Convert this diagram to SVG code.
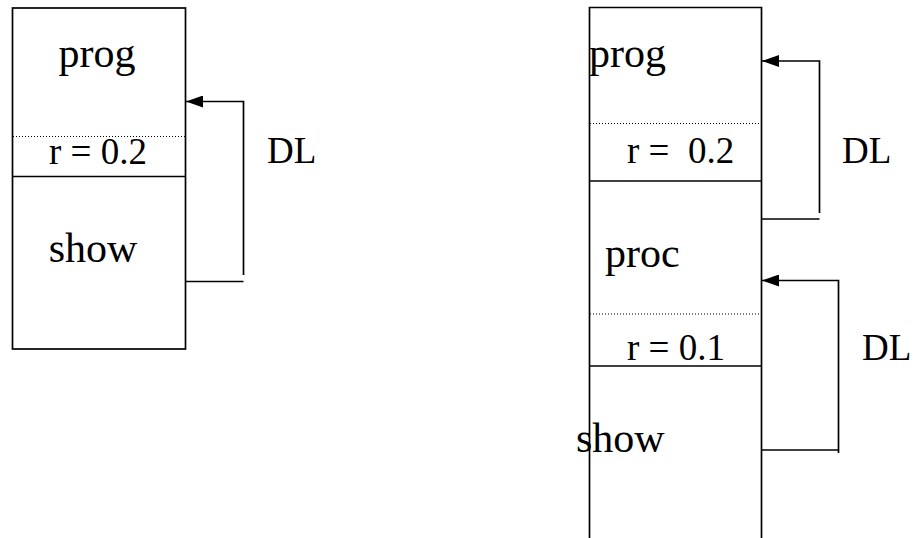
<svg xmlns="http://www.w3.org/2000/svg" width="914" height="538" viewBox="0 0 914 538">
  <style>
    .frame { fill: none; stroke: #000; stroke-width: 1.7; }
    .sep { stroke: #000; stroke-width: 1.7; }
    .dot { stroke: #000; stroke-width: 1; stroke-dasharray: 1 2; }
    .link { fill: none; stroke: #000; stroke-width: 1.7; }
    .big { font-family: "Liberation Serif", "Times New Roman", serif; font-size: 42px; fill: #000; }
    .mid { font-family: "Liberation Serif", "Times New Roman", serif; font-size: 37px; fill: #000; white-space: pre; }
  </style>
  <defs>
    <marker id="arrow" viewBox="0 0 17 12" refX="17" refY="6" markerWidth="17" markerHeight="12" markerUnits="userSpaceOnUse" orient="auto">
      <path d="M0,0 L17,6 L0,12 Z" fill="#000"/>
    </marker>
  </defs>

  <!-- Left stack: prog frame over show frame -->
  <g id="left-stack">
    <rect class="frame" x="12.5" y="8" width="173" height="341"/>
    <line class="dot" x1="13" y1="136.5" x2="185" y2="136.5"/>
    <line class="sep" x1="12.5" y1="176.5" x2="185.5" y2="176.5"/>
    <text class="big" x="97" y="67" text-anchor="middle">prog</text>
    <text class="mid" x="98" y="164" text-anchor="middle">r = 0.2</text>
    <text class="big" x="93" y="262" text-anchor="middle">show</text>
  </g>

  <!-- Right stack: prog, proc and show frames -->
  <g id="right-stack">
    <path class="frame" d="M589.5,538 V7.5 H761.5 V538"/>
    <line class="dot" x1="590" y1="123.5" x2="761" y2="123.5"/>
    <line class="sep" x1="589.5" y1="181" x2="761.5" y2="181"/>
    <line class="dot" x1="590" y1="314" x2="761" y2="314"/>
    <line class="sep" x1="589.5" y1="366" x2="761.5" y2="366"/>
    <text class="big" x="589" y="67">prog</text>
    <text class="mid" x="627" y="163">r =  0.2</text>
    <text class="big" x="605" y="267">proc</text>
    <text class="mid" x="627" y="360">r = 0.1</text>
    <text class="big" x="576" y="452">show</text>
  </g>

  <!-- Dynamic links -->
  <g id="connectors">
    <polyline class="link" points="186,281.5 243.5,281.5"/>
    <polyline class="link" points="243.5,275 243.5,101.5 186,101.5" marker-end="url(#arrow)"/>
    <polyline class="link" points="762,219 819.5,219"/>
    <polyline class="link" points="819.5,213 819.5,61 762,61" marker-end="url(#arrow)"/>
    <polyline class="link" points="762,450 838.5,450"/>
    <polyline class="link" points="838.5,453 838.5,280.5 762,280.5" marker-end="url(#arrow)"/>
  </g>

  <g id="labels">
    <text class="mid" x="267" y="163">DL</text>
    <text class="mid" x="842" y="163">DL</text>
    <text class="mid" x="862" y="360">DL</text>
  </g>
</svg>
